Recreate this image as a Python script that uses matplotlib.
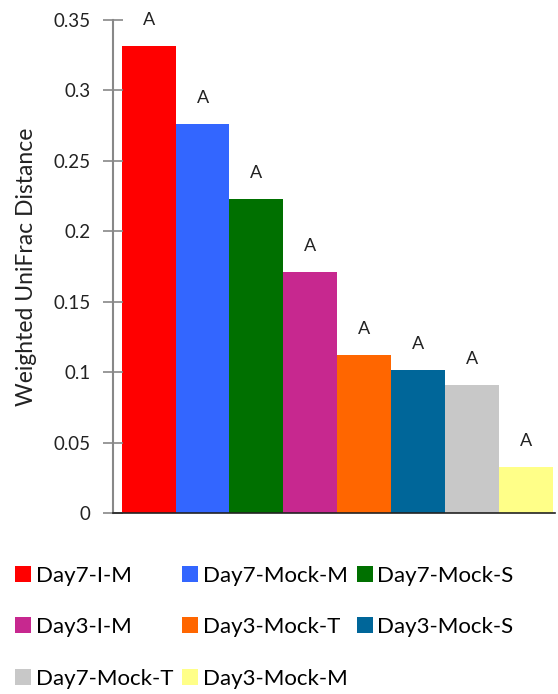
import matplotlib
matplotlib.use("Agg")
import matplotlib.pyplot as plt
from matplotlib.patches import Patch

plt.rcParams['font.family'] = ['Lato', 'DejaVu Sans']

groups = ['Day7-I-M', 'Day7-Mock-M', 'Day7-Mock-S', 'Day3-I-M',
          'Day3-Mock-T', 'Day3-Mock-S', 'Day7-Mock-T', 'Day3-Mock-M']
distance = [0.3315, 0.276, 0.223, 0.171, 0.112, 0.1015, 0.091, 0.0327]
letters = ['A', 'A', 'A', 'A', 'A', 'A', 'A', 'A']
colors = ['#FF0000', '#3366FF', '#007000', '#C7288F',
          '#FF6600', '#006699', '#C8C8C8', '#FFFF88']

fig = plt.figure(figsize=(5.58, 6.94), dpi=100)
ax = fig.add_axes([0.2025, 0.2608, 0.7925, 0.7104])

x = range(len(groups))
bars = ax.bar(x, distance, width=1.0, color=colors, edgecolor='none')
for xi, v, s in zip(x, distance, letters):
    ax.text(xi, v + 0.013, s, ha='center', va='bottom', fontsize=13, color='#222222')

ax.set_xlim(-0.66, 7.54)
ax.set_ylim(0, 0.35)
ax.set_yticks([0, 0.05, 0.1, 0.15, 0.2, 0.25, 0.3, 0.35])
ax.set_yticklabels(['0', '0.05', '0.1', '0.15', '0.2', '0.25', '0.3', '0.35'])
ax.set_xticks([])
ax.tick_params(axis='y', direction='inout', length=14, width=1.2, color='#888888',
               labelsize=13.5, labelcolor='#222222', pad=9)
ax.set_ylabel('Weighted UniFrac Distance', fontsize=16.5, color='#222222', labelpad=12)

for side in ['top', 'right']:
    ax.spines[side].set_visible(False)
ax.spines['left'].set_color('#888888')
ax.spines['left'].set_linewidth(1.5)
ax.spines['bottom'].set_color('#222222')
ax.spines['bottom'].set_linewidth(1.2)

# reorder so the legend fills row by row
order = [0, 3, 6, 1, 4, 7, 2, 5]
handles = [Patch(facecolor=colors[i], edgecolor='none') for i in order]
labels = [groups[i] for i in order]
fig.legend(handles, labels, ncol=3, loc='upper left', bbox_to_anchor=(0.027, 0.185),
           frameon=False, fontsize=16, handlelength=0.72, handleheight=0.72,
           handletextpad=0.2, columnspacing=0.42, labelspacing=1.42,
           borderaxespad=0, borderpad=0)

fig.savefig('out.png', dpi=100)
